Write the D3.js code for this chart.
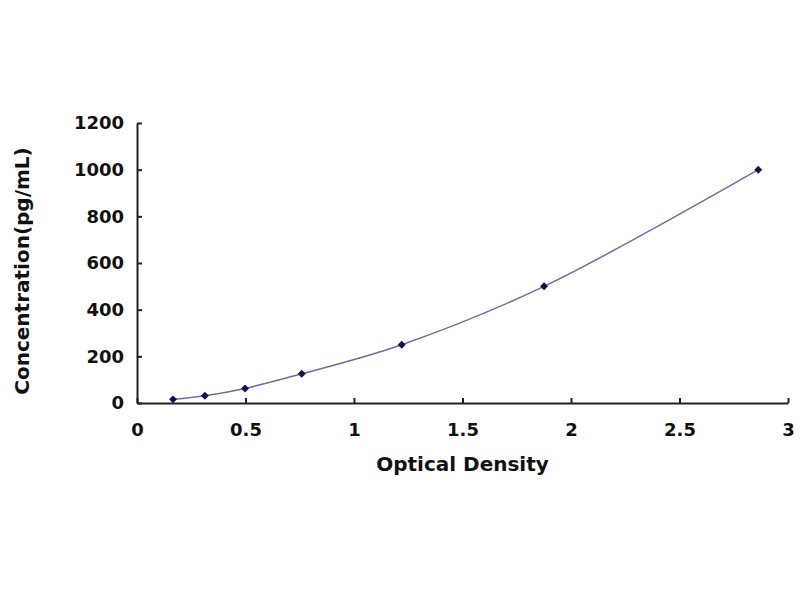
<!DOCTYPE html>
<html>
<head>
<meta charset="utf-8">
<script src="https://cdn.jsdelivr.net/npm/d3@7"></script>
<style>
  body { margin: 0; background: #fff; }
  text { font-family: "DejaVu Sans", sans-serif; font-weight: bold; fill: #111; }
</style>
</head>
<body>
<div id="chart"></div>
<script>
// standard curve readings
const opticalDensity = [0.166, 0.313, 0.498, 0.759, 1.22, 1.876, 2.863];
const concentration = [15.6, 31.2, 62.5, 125, 250, 500, 1000];
const xTicks = [0, 0.5, 1, 1.5, 2, 2.5, 3];
const yTicks = [0, 200, 400, 600, 800, 1000, 1200];

const MARGIN = { LEFT: 137, RIGHT: 12, TOP: 123, BOTTOM: 197 };
const WIDTH = 800 - MARGIN.LEFT - MARGIN.RIGHT;
const HEIGHT = 600 - MARGIN.TOP - MARGIN.BOTTOM;

const svg = d3.select("#chart")
  .append("svg")
  .attr("width", 800)
  .attr("height", 600);

const g = svg.append("g")
  .attr("transform", `translate(${MARGIN.LEFT}, ${MARGIN.TOP})`);

const x = d3.scaleLinear().domain([0, 3]).range([0, WIDTH]);
const y = d3.scaleLinear().domain([0, 1200]).range([HEIGHT, 0]);

const data = opticalDensity.map((d, i) => ({ od: d, conc: concentration[i] }));

// axes with inward ticks
const xAxis = g.append("g")
  .attr("transform", `translate(0, ${HEIGHT})`)
  .call(d3.axisBottom(x).tickValues(xTicks).tickSize(-5).tickSizeOuter(0)
    .tickFormat(d3.format("")));

const yAxis = g.append("g")
  .call(d3.axisLeft(y).tickValues(yTicks).tickSize(-5).tickSizeOuter(0)
    .tickFormat(d3.format("d")));

[xAxis, yAxis].forEach((ax) => {
  ax.select(".domain").attr("stroke", "#222").attr("stroke-width", 2);
  ax.selectAll(".tick line").attr("stroke", "#222").attr("stroke-width", 2);
  ax.selectAll(".tick text")
    .attr("font-family", "DejaVu Sans, sans-serif")
    .attr("font-weight", "bold")
    .attr("font-size", "18px")
    .attr("fill", "#111");
});
xAxis.selectAll(".tick text").attr("y", 20);
yAxis.selectAll(".tick text").attr("x", -13);

// fitted curve
const line = d3.line()
  .x((d) => x(d.od))
  .y((d) => y(d.conc))
  .curve(d3.curveCatmullRom);

g.append("path")
  .datum(data)
  .attr("fill", "none")
  .attr("stroke", "#6872a0")
  .attr("stroke-width", 1.5)
  .attr("d", line);

g.selectAll(".pt")
  .data(data)
  .enter()
  .append("path")
  .attr("class", "pt")
  .attr("transform", (d) => `translate(${x(d.od)}, ${y(d.conc)})`)
  .attr("d", d3.symbol().type(d3.symbolDiamond2).size(40))
  .attr("fill", "#10104a");

// axis titles
g.append("text")
  .attr("x", x(1.5))
  .attr("y", HEIGHT + 68)
  .attr("text-anchor", "middle")
  .attr("font-size", "20px")
  .text("Optical Density");

g.append("text")
  .attr("transform", `translate(${-MARGIN.LEFT + 29}, ${HEIGHT / 2 + 8}) rotate(-90)`)
  .attr("text-anchor", "middle")
  .attr("font-size", "20px")
  .text("Concentration(pg/mL)");
</script>
</body>
</html>
